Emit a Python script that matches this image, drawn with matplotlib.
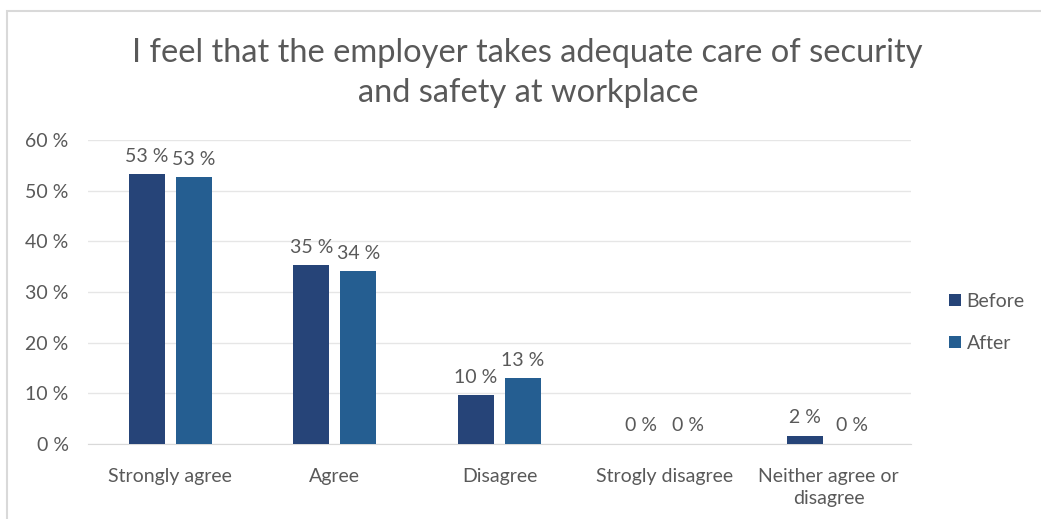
import matplotlib
matplotlib.use("Agg")
from matplotlib import pyplot as plt
from matplotlib.patches import Rectangle
import numpy as np

categories = ["Strongly agree", "Agree", "Disagree", "Strogly disagree",
              "Neither agree or\ndisagree"]
before = [53.2, 35.3, 9.6, 0.0, 1.6]
after = [52.6, 34.1, 13.0, 0.0, 0.0]
yticks = [0, 10, 20, 30, 40, 50, 60]

c_before = "#264478"
c_after = "#255E91"
grey = "#595959"

plt.rcParams['font.family'] = ['Lato', 'DejaVu Sans']

fig = plt.figure(figsize=(10.41, 5.19), dpi=100)
fig.patches.append(Rectangle((7 / 1041, -0.1), 1.2, 1 - 11 / 519 + 0.1,
                             transform=fig.transFigure, fill=False,
                             edgecolor="#D9D9D9", lw=1.5))

ax = fig.add_axes([88 / 1041, 1 - 444 / 519, 823 / 1041, 304 / 519])
x = np.arange(len(categories))
w = 0.219
off = 0.143
b1 = ax.bar(x - off, before, w, color=c_before, zorder=3)
b2 = ax.bar(x + off, after, w, color=c_after, zorder=3)

for bars, vals in ((b1, before), (b2, after)):
    for r, v in zip(bars, vals):
        ax.text(r.get_x() + r.get_width() / 2, v + 1.9, f"{round(v):.0f} %",
                ha="center", va="bottom", fontsize=14, color=grey)

ax.set_xlim(-0.5, len(categories) - 0.5)
ax.set_ylim(0, 60)
ax.set_yticks(yticks)
ax.set_yticklabels([f"{t} %" for t in yticks])
ax.set_xticks(x)
ax.set_xticklabels(categories, linespacing=1.35)
ax.tick_params(length=0, labelsize=14, colors=grey)
ax.tick_params(axis="y", pad=14)
ax.tick_params(axis="x", pad=17)
ax.grid(axis="y", color="#E6E6E6", lw=1, zorder=0)
for s in ["top", "right", "left"]:
    ax.spines[s].set_visible(False)
ax.spines["bottom"].set_color("#D9D9D9")

ax.legend([b1, b2], ["Before", "After"], loc="center left",
          bbox_to_anchor=(1.025, 0.40), frameon=False, fontsize=14,
          labelcolor=grey, handlelength=0.6, handleheight=0.6,
          handletextpad=0.3, labelspacing=1.3)

fig.text(0.507, 1 - 73 / 519, "I feel that the employer takes adequate care of security\nand safety at workplace",
         ha="center", va="center", fontsize=23.5, color=grey, linespacing=1.4)

fig.savefig("out.png", dpi=100)
